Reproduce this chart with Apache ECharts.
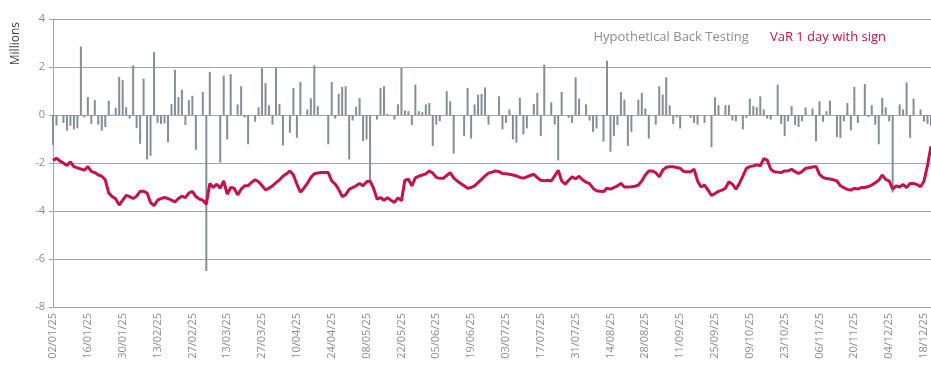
<!DOCTYPE html>
<html>
<head>
<meta charset="utf-8">
<script src="https://cdn.jsdelivr.net/npm/echarts@6/dist/echarts.min.js"></script>
<style>
html,body{margin:0;padding:0;background:#fff;}
#chart{width:931px;height:370px;}
</style>
</head>
<body>
<div id="chart"></div>
<script>
// weekday dates from 02/01/25, one per trading day
var firstDay = '2025-01-02';
var dayCount = 253;

// Hypothetical Back Testing (millions)
var backTest = [
	-1.25,-0.44,0,-0.33,-0.65,-0.45,-0.6,-0.55,2.85,-0.1,
	0.75,-0.37,0.62,-0.4,-0.65,-0.5,0.6,0.02,0.3,1.58,
	1.45,0.32,-0.15,2.07,-0.55,-1.2,1.52,-1.85,-1.7,2.62,
	-0.33,-0.37,-0.35,-1.13,0.45,1.88,0.75,1.05,-0.42,0.62,
	0.8,-1.45,0,0.96,-6.5,1.8,0,0,-1.98,1.64,
	-1.02,1.7,0,0.44,1.2,-0.1,-1.22,0,-0.28,0.32,
	1.95,1.33,0.4,-0.4,1.96,0.46,-1.27,0,-0.74,1.13,
	-0.95,1.38,0,0.23,0.7,2.07,0.37,0,0,-1.22,
	1.38,-0.15,0.88,1.17,1.2,-1.85,-0.23,0.34,0.71,-1.09,
	-1.02,-2.7,0,-0.19,1.13,1.2,0.05,0,-0.19,0.44,
	1.96,0.19,0.16,-0.42,1.27,0.16,0.12,0.44,0.5,-1.29,
	-0.4,-0.26,0,0.99,0.57,-1.61,0,0,-0.88,1.13,
	-0.98,0.44,0.85,0.88,1.15,-0.4,0,0,0.78,-0.6,
	-0.33,0.23,-1.02,-1.15,0.71,-0.81,-0.56,0,0.46,0.92,
	-0.88,2.1,0,0.53,-0.4,-1.89,0.96,0,-0.12,-0.33,
	1.57,0.68,0,0.44,-0.23,-0.7,-0.56,0,-1.11,2.26,
	-1.53,-0.88,-0.42,0.96,0.64,-1.29,-0.7,0,0.64,0.92,
	0.27,-0.98,0,-0.4,1.2,0.85,1.57,0.4,-0.37,-0.1,
	-0.56,0,0,-0.12,-0.33,-0.4,0,-0.33,0,-1.34,
	0.74,0.41,0,0.41,0.41,-0.23,-0.26,0,-0.6,-0.12,
	0.68,0.37,0.32,0.78,0.23,-0.15,-0.19,0,1.27,-0.37,
	-0.88,-0.26,0.37,-0.42,-0.5,-0.26,0.32,0,0.27,-1.09,
	0.57,-0.28,0.16,0.6,0,-0.92,-0.95,-0.26,0.5,-0.64,
	1.17,-0.33,0,1.29,-0.09,0.41,-0.4,-1.22,0.71,0.32,
	-0.26,-3.23,0,0.44,0.23,1.36,-0.95,0.68,0,0.23,
	-0.28,-0.37,-0.46
];

// VaR 1 day with sign (millions)
var varOneDay = [
	-1.9,-1.8,-1.92,-2.0,-2.1,-1.95,-2.15,-2.2,-2.25,-2.3,
	-2.15,-2.35,-2.4,-2.5,-2.55,-2.7,-3.25,-3.4,-3.5,-3.75,
	-3.55,-3.35,-3.4,-3.48,-3.38,-3.18,-3.18,-3.25,-3.65,-3.78,
	-3.55,-3.48,-3.44,-3.48,-3.55,-3.62,-3.48,-3.38,-3.44,-3.25,
	-3.18,-3.4,-3.5,-3.55,-3.72,-2.85,-3.02,-2.88,-3.05,-2.75,
	-3.3,-3.02,-3.05,-3.33,-3.09,-2.95,-2.95,-2.8,-2.7,-2.78,
	-2.95,-3.12,-3.05,-2.95,-2.82,-2.7,-2.55,-2.45,-2.33,-2.5,
	-2.88,-3.22,-3.05,-2.85,-2.6,-2.45,-2.42,-2.4,-2.4,-2.4,
	-2.75,-2.88,-3.1,-3.4,-3.32,-3.1,-3.02,-2.95,-2.85,-2.95,
	-2.78,-2.75,-3.05,-3.5,-3.44,-3.55,-3.45,-3.55,-3.64,-3.45,
	-3.57,-2.72,-2.68,-2.95,-2.62,-2.55,-2.5,-2.45,-2.33,-2.42,
	-2.6,-2.64,-2.64,-2.52,-2.4,-2.62,-2.75,-2.85,-2.95,-3.05,
	-3.02,-2.95,-2.82,-2.68,-2.54,-2.42,-2.38,-2.33,-2.36,-2.44,
	-2.45,-2.47,-2.5,-2.54,-2.6,-2.63,-2.58,-2.52,-2.47,-2.61,
	-2.72,-2.74,-2.72,-2.75,-2.54,-2.3,-2.75,-2.88,-2.72,-2.58,
	-2.66,-2.55,-2.7,-2.8,-2.86,-3.05,-3.16,-3.18,-3.19,-3.05,
	-3.09,-3.02,-2.95,-2.85,-3.0,-3.0,-2.99,-2.97,-2.92,-2.75,
	-2.5,-2.33,-2.33,-2.4,-2.58,-2.3,-2.18,-2.16,-2.16,-2.19,
	-2.22,-2.35,-2.36,-2.36,-2.26,-2.75,-3.0,-2.92,-3.13,-3.35,
	-3.27,-3.18,-3.13,-3.05,-2.78,-2.88,-3.09,-2.85,-2.55,-2.22,
	-2.15,-2.12,-2.08,-2.12,-1.82,-1.88,-2.26,-2.36,-2.38,-2.4,
	-2.33,-2.33,-2.26,-2.36,-2.44,-2.35,-2.22,-2.2,-2.17,-2.14,
	-2.47,-2.6,-2.65,-2.67,-2.7,-2.75,-2.95,-3.03,-3.1,-3.13,
	-3.05,-3.09,-3.02,-3.02,-2.98,-2.92,-2.82,-2.72,-2.5,-2.68,
	-2.75,-3.09,-2.95,-3.0,-2.9,-3.02,-2.85,-2.85,-2.9,-2.99,
	-2.75,-2.1,-1.3
];

var yTicks = {min: -8, max: 4, interval: 2};

function buildDates(start, n) {
	var out = [];
	var d = new Date(start + 'T00:00:00Z');
	while (out.length < n) {
		var wd = d.getUTCDay();
		if (wd !== 0 && wd !== 6) {
			var dd = ('0' + d.getUTCDate()).slice(-2);
			var mm = ('0' + (d.getUTCMonth() + 1)).slice(-2);
			var yy = String(d.getUTCFullYear()).slice(-2);
			out.push(dd + '/' + mm + '/' + yy);
		}
		d.setUTCDate(d.getUTCDate() + 1);
	}
	return out;
}
var dates = buildDates(firstDay, dayCount);

var myChart = echarts.init(document.getElementById('chart'));
var gridColor = '#a6a6a6';
var labelColor = '#8c8c8c';
var option = {
	animation: false,
	textStyle: {fontFamily: 'Open Sans'},
	grid: {left: 53, right: 0, top: 19, bottom: 63},
	legend: {
		right: 40,
		top: 26,
		itemWidth: 0,
		itemHeight: 0,
		itemGap: 16,
		textStyle: {fontSize: 13},
		data: [
			{name: 'Hypothetical Back Testing', icon: 'rect', textStyle: {color: '#8c8c8c'}},
			{name: 'VaR 1 day with sign', icon: 'rect', textStyle: {color: '#c8104e'}}
		]
	},
	graphic: [{
		type: 'text',
		left: 10,
		top: 22,
		rotation: Math.PI / 2,
		style: {text: 'Millions', fill: '#404040', font: '12px "Open Sans"'}
	}],
	xAxis: {
		type: 'category',
		data: dates,
		boundaryGap: false,
		axisLine: {lineStyle: {color: gridColor}},
		axisTick: {show: false},
		axisLabel: {
			interval: 9,
			rotate: 90,
			color: labelColor,
			fontSize: 11,
			margin: 6
		}
	},
	yAxis: {
		type: 'value',
		min: yTicks.min,
		max: yTicks.max,
		interval: yTicks.interval,
		axisLine: {show: true, lineStyle: {color: gridColor}},
		axisTick: {show: true, length: 4, lineStyle: {color: gridColor}},
		axisLabel: {color: labelColor, fontSize: 11, margin: 8},
		splitLine: {lineStyle: {color: gridColor, width: 1}}
	},
	series: [
		{
			name: 'Hypothetical Back Testing',
			type: 'bar',
			data: backTest,
			barWidth: 2,
			itemStyle: {color: '#848e97'},
			z: 2
		},
		{
			name: 'VaR 1 day with sign',
			type: 'line',
			data: varOneDay,
			symbol: 'none',
			lineStyle: {color: '#c8104e', width: 3},
			itemStyle: {color: '#c8104e'},
			z: 3
		}
	]
};
myChart.setOption(option);
</script>
</body>
</html>
